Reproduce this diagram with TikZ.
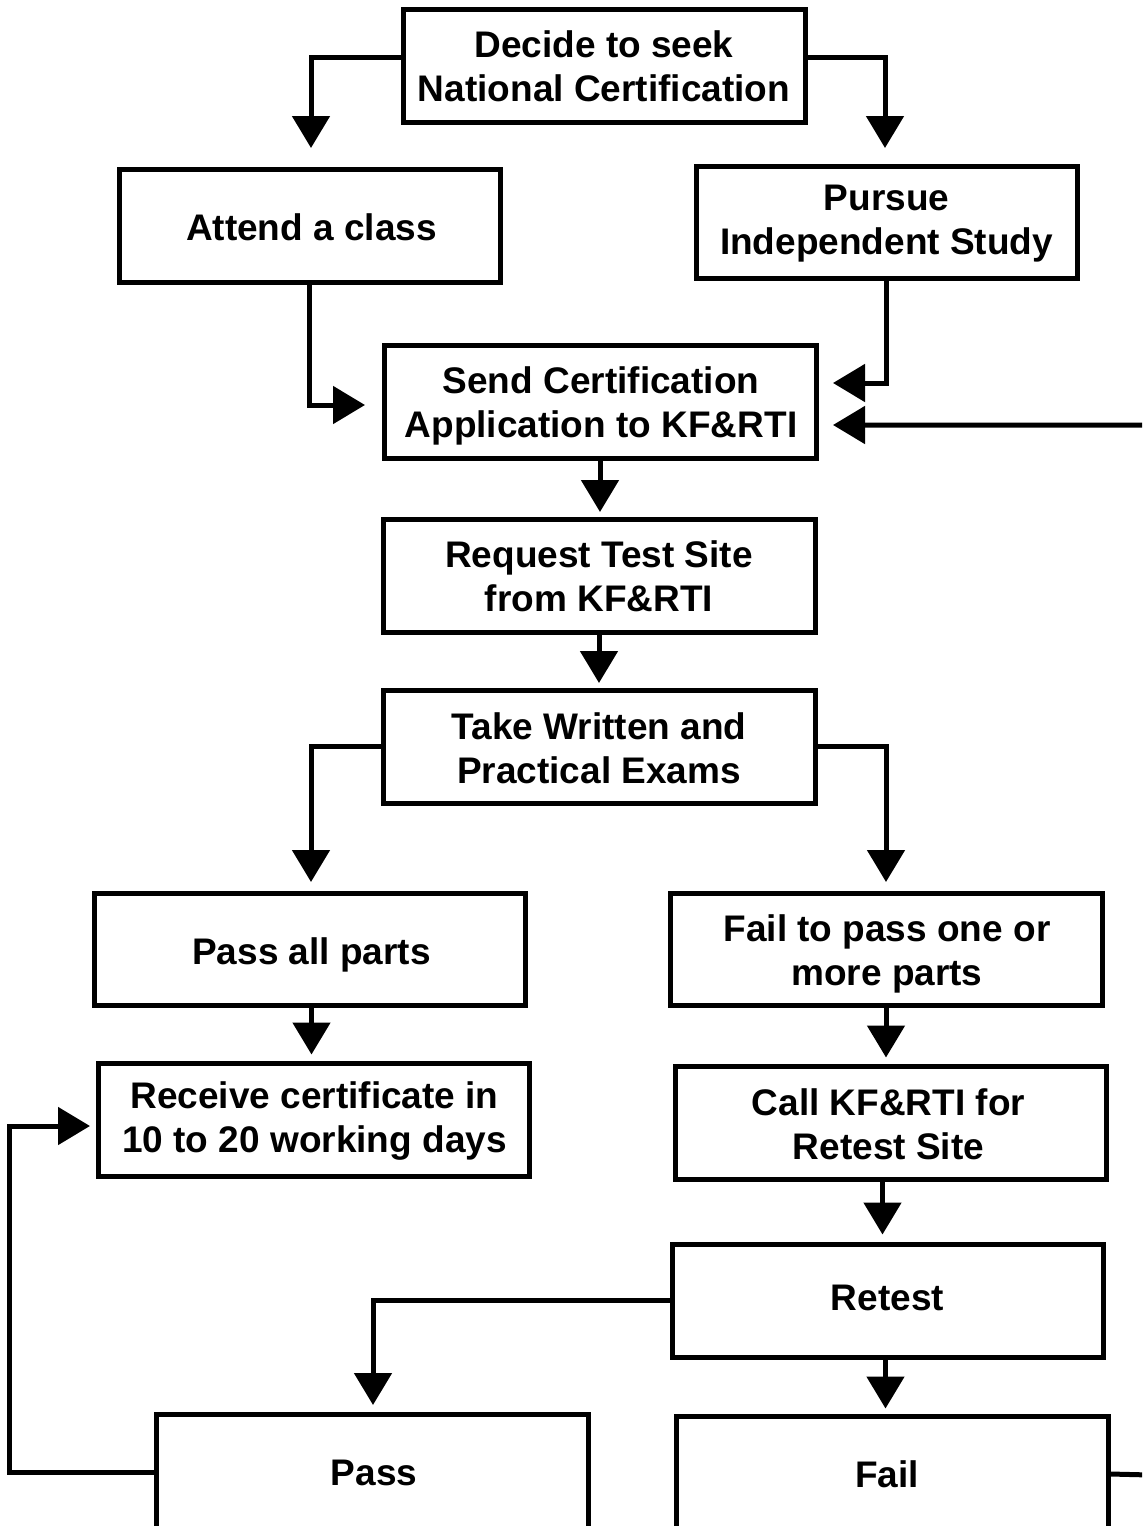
\documentclass[tikz,border=0pt]{standalone}
\usepackage{fontspec}
\setmainfont{Liberation Sans}
\usetikzlibrary{arrows.meta,calc}
\begin{document}
\begin{tikzpicture}[x=0.5pt,y=-0.5pt,
  box/.style={draw, line width=2.5pt, inner sep=0pt},
  txt/.style={inner sep=0pt, align=center,
    font=\bfseries\fontsize{18.5}{22}\selectfont},
  arr/.style={line width=2.5pt, -{Triangle[length=16pt,width=18.5pt]}}]
\useasboundingbox (0,0) rectangle (1142,1526);
\clip (0,0) rectangle (1142,1526);
\fill[white] (0,0) rectangle (1142,1526);

% boxes
\node[box, minimum width=201pt, minimum height=56.5pt] (decide) at (604,65.5) {};
\node[box, minimum width=190.5pt, minimum height=56.5pt] (attend) at (309.5,225.5) {};
\node[box, minimum width=190.5pt, minimum height=56pt] (pursue) at (886.5,222) {};
\node[box, minimum width=216pt, minimum height=56.5pt] (send) at (600,401.5) {};
\node[box, minimum width=216pt, minimum height=56.5pt] (request) at (599,575.5) {};
\node[box, minimum width=216pt, minimum height=56.5pt] (take) at (599,746.5) {};
\node[box, minimum width=215.5pt, minimum height=56pt] (passall) at (309.5,949) {};
\node[box, minimum width=216pt, minimum height=56pt] (failpass) at (886,949) {};
\node[box, minimum width=215.5pt, minimum height=56.5pt] (receive) at (313.5,1119.5) {};
\node[box, minimum width=215.5pt, minimum height=56.5pt] (call) at (890.5,1122.5) {};
\node[box, minimum width=215.5pt, minimum height=56.5pt] (retest) at (887.5,1300.5) {};
\node[box, minimum width=216pt, minimum height=58pt] (pass) at (372,1472) {};
\node[box, minimum width=216pt, minimum height=58pt] (fail) at (892,1474) {};

% texts
\node[txt] (decidet) at ($(decide)+(0,1)$) {Decide to seek\\National Certification};
\node[txt] (attendt) at ($(attend)+(2,2)$) {Attend a class};
\node[txt] (pursuet) at ($(pursue)+(0,2)$) {Pursue\\Independent Study};
\node[txt] (sendt) at ($(send)+(1,4)$) {Send Certification\\Application to KF\&RTI};
\node[txt] (requestt) at ($(request)+(0,1)$) {Request Test Site\\from KF\&RTI};
\node[txt] (taket) at ($(take)+(0,2)$) {Take Written and\\Practical Exams};
\node[txt] (passallt) at ($(passall)+(2,6)$) {Pass all parts};
\node[txt] (failpasst) at ($(failpass)+(1,5)$) {Fail to pass one or\\more parts};
\node[txt] (receivet) at ($(receive)+(1,1)$) {Receive certificate in\\10 to 20 working days};
\node[txt] (callt) at ($(call)+(-2,1.5)$) {Call KF\&RTI for\\Retest Site};
\node[txt] (retestt) at ($(retest)+(0,-3)$) {Retest};
\node[txt] (passt) at ($(pass)+(2,1)$) {Pass};
\node[txt] (failt) at ($(fail)+(-5,0)$) {Fail};

\coordinate (t1) at (311,148);
\coordinate (t2) at (885,148);
\coordinate (t3) at (365,405);
\coordinate (t4) at (833,383);
\coordinate (t5) at (833,425);
\coordinate (t6) at (600,512);
\coordinate (t7) at (599,683);
\coordinate (t8) at (311,882);
\coordinate (t9) at (886,882);
\coordinate (t11) at (90,1126);
\coordinate (t12) at (373,1405);

\draw[arr] ($(decide.west)+(0,-8)$) -| (t1);
\draw[arr] ($(decide.east)+(0,-8)$) -| (t2);
\draw[arr] (attend.south) |- (t3);
\draw[arr] (pursue.south) |- (t4);
\draw[arr] (fail.east) -- (1150,1475) |- (t5);
\draw[arr] (send.south) -- (t6);
\draw[arr] (request.south) -- (t7);
\draw[arr] (take.west) -| (t8);
\draw[arr] (take.east) -| (t9);
\draw[arr] ([xshift=1]passall.south) -- ++(0,47);
\draw[arr] (failpass.south) -- ++(0,50);
\draw[arr] (pass.west) -- ++(-144,0) |- (t11);
\draw[arr] ([xshift=-4]call.south) -- ++(0,53);
\draw[arr] (retest.west) -| (t12);
\draw[arr] ([xshift=-1]retest.south) -- ++(0,49);
\end{tikzpicture}
\end{document}
